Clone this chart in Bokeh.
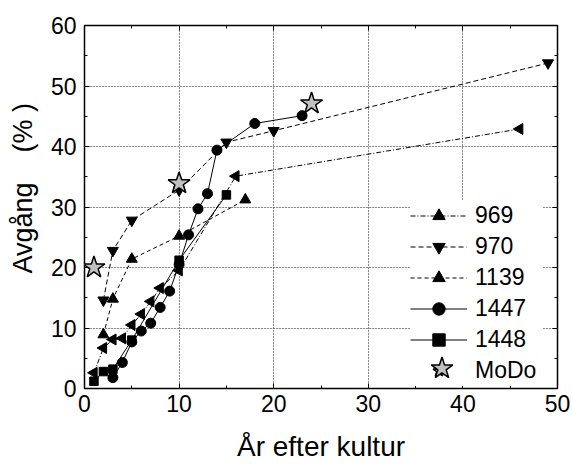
import numpy as np
from bokeh.plotting import figure
from bokeh.models import (Range1d, SingleIntervalTicker, LinearAxis, Legend, LegendItem,
                          Grid, CustomJSTickFormatter)
from bokeh.embed import file_html
from bokeh.resources import INLINE

# ---- data ----
x_969 = [1, 2, 3, 4, 5, 6, 7, 8, 10, 16, 46]
y_969 = [2.6, 6.7, 8.1, 8.3, 10.5, 12.3, 14.4, 16.6, 19.5, 35.1, 42.9]

x_970 = [2, 3, 5, 10, 15, 20, 49]
y_970 = [14.6, 22.8, 27.8, 32.8, 40.7, 42.6, 53.8]

x_1139 = [2, 3, 5, 10, 17]
y_1139 = [8.9, 14.8, 21.4, 25.2, 31.2]

x_1447 = [3, 4, 5, 6, 7, 8, 9, 10, 11, 12, 13, 14, 18, 23]
y_1447 = [1.8, 4.3, 7.7, 9.5, 10.8, 13.4, 16.1, 20.5, 25.4, 29.7, 32.2, 39.4, 43.8, 45.1]

x_1448 = [1, 2, 3, 5, 10, 15]
y_1448 = [1.2, 2.8, 3.2, 8.0, 21.2, 32.0]

x_modo = [1, 10, 24]
y_modo = [20.0, 33.9, 47.1]

series_labels = ["969", "970", "1139", "1447", "1448", "MoDo"]
x_label = "År efter kultur"
NB = "\u00a0"
y_label = NB * 5 + "Avgång" + NB * 4 + "(%" + NB + ")"

FONT = "Liberation Sans"

p = figure(width=572, height=465, output_backend="svg", toolbar_location=None,
           x_range=Range1d(0, 50), y_range=Range1d(0, 60),
           min_border_left=84, min_border_right=15, min_border_top=25, min_border_bottom=77,
           x_axis_location=None, y_axis_location=None)
p.background_fill_color = "white"
p.border_fill_color = "white"
p.outline_line_color = "black"
p.outline_line_width = 1.5

xt = SingleIntervalTicker(interval=10, num_minor_ticks=2)
yt = SingleIntervalTicker(interval=10, num_minor_ticks=2)

def mk_axis(ticker, labels=True):
    ax = LinearAxis(ticker=ticker)
    ax.axis_line_color = None
    ax.major_tick_in = 5
    ax.major_tick_out = 0
    ax.minor_tick_in = 3
    ax.minor_tick_out = 0
    ax.major_tick_line_color = "black"
    ax.minor_tick_line_color = "black"
    if labels:
        ax.major_label_text_font = FONT
        ax.major_label_text_font_size = "23px"
        ax.major_label_text_color = "black"
        ax.axis_label_text_font = FONT
        ax.axis_label_text_font_style = "normal"
        ax.axis_label_text_color = "black"
    else:
        ax.formatter = CustomJSTickFormatter(code="return ''")
        ax.major_label_standoff = 0
    return ax

xb = mk_axis(xt)
xb.axis_label = x_label
xb.axis_label_text_font_size = "28px"
xb.major_label_standoff = 6
xb.axis_label_standoff = 16
p.add_layout(xb, "below")

yl = mk_axis(yt)
yl.axis_label = y_label
yl.axis_label_text_font_size = "27px"
yl.major_label_standoff = 8
yl.axis_label_standoff = 10
p.add_layout(yl, "left")

p.add_layout(mk_axis(SingleIntervalTicker(interval=10, num_minor_ticks=2), False), "above")
p.add_layout(mk_axis(SingleIntervalTicker(interval=10, num_minor_ticks=2), False), "right")

gx = Grid(dimension=0, ticker=xt, grid_line_color="#333333", grid_line_dash="1 2", grid_line_width=1)
gy = Grid(dimension=1, ticker=yt, grid_line_color="#333333", grid_line_dash="1 2", grid_line_width=1)
p.add_layout(gx)
p.add_layout(gy)

items = []

l = p.line(x_969, y_969, line_color="black", line_width=1, line_dash="5 2 1 2")
s = p.scatter(x_969, y_969, marker="triangle", angle=np.pi / 2, size=11,
              fill_color="black", line_color="black")
items.append(LegendItem(label=series_labels[0], renderers=[l, s]))

l = p.line(x_970, y_970, line_color="black", line_width=1, line_dash="5 3")
s = p.scatter(x_970, y_970, marker="inverted_triangle", size=11,
              fill_color="black", line_color="black")
items.append(LegendItem(label=series_labels[1], renderers=[l, s]))

l = p.line(x_1139, y_1139, line_color="black", line_width=1, line_dash="4 3")
s = p.scatter(x_1139, y_1139, marker="triangle", size=11,
              fill_color="black", line_color="black")
items.append(LegendItem(label=series_labels[2], renderers=[l, s]))

l = p.line(x_1447, y_1447, line_color="black", line_width=1)
s = p.scatter(x_1447, y_1447, marker="circle", size=10,
              fill_color="black", line_color="black")
items.append(LegendItem(label=series_labels[3], renderers=[l, s]))

l = p.line(x_1448, y_1448, line_color="black", line_width=1)
s = p.scatter(x_1448, y_1448, marker="square", size=8.5,
              fill_color="black", line_color="black")
items.append(LegendItem(label=series_labels[4], renderers=[l, s]))

star = p.scatter(x_modo, y_modo, marker="star", size=23,
                 fill_color="#c0c0c0", line_color="black", line_width=1.5)
items.append(LegendItem(label=series_labels[5], renderers=[star]))

leg = Legend(items=items, location=(326, 2), orientation="vertical",
             glyph_width=57, glyph_height=31, spacing=0, padding=3, margin=0,
             label_standoff=8, label_width=68, label_height=31,
             label_text_font=FONT, label_text_font_size="23px", label_text_color="black",
             border_line_color=None, background_fill_color="white", background_fill_alpha=1.0)
p.add_layout(leg, "center")

# larger star for the MoDo legend entry
leg2 = Legend(items=[LegendItem(label="", renderers=[star])], location=(329, -10),
              glyph_width=57, glyph_height=60, spacing=0, padding=0, margin=0,
              label_standoff=0, label_width=0, label_height=60,
              label_text_font_size="10px", label_text_alpha=0.0,
              border_line_color=None, background_fill_alpha=0.0)
p.add_layout(leg2, "center")

open("out.html", "w").write(file_html(p, INLINE))
